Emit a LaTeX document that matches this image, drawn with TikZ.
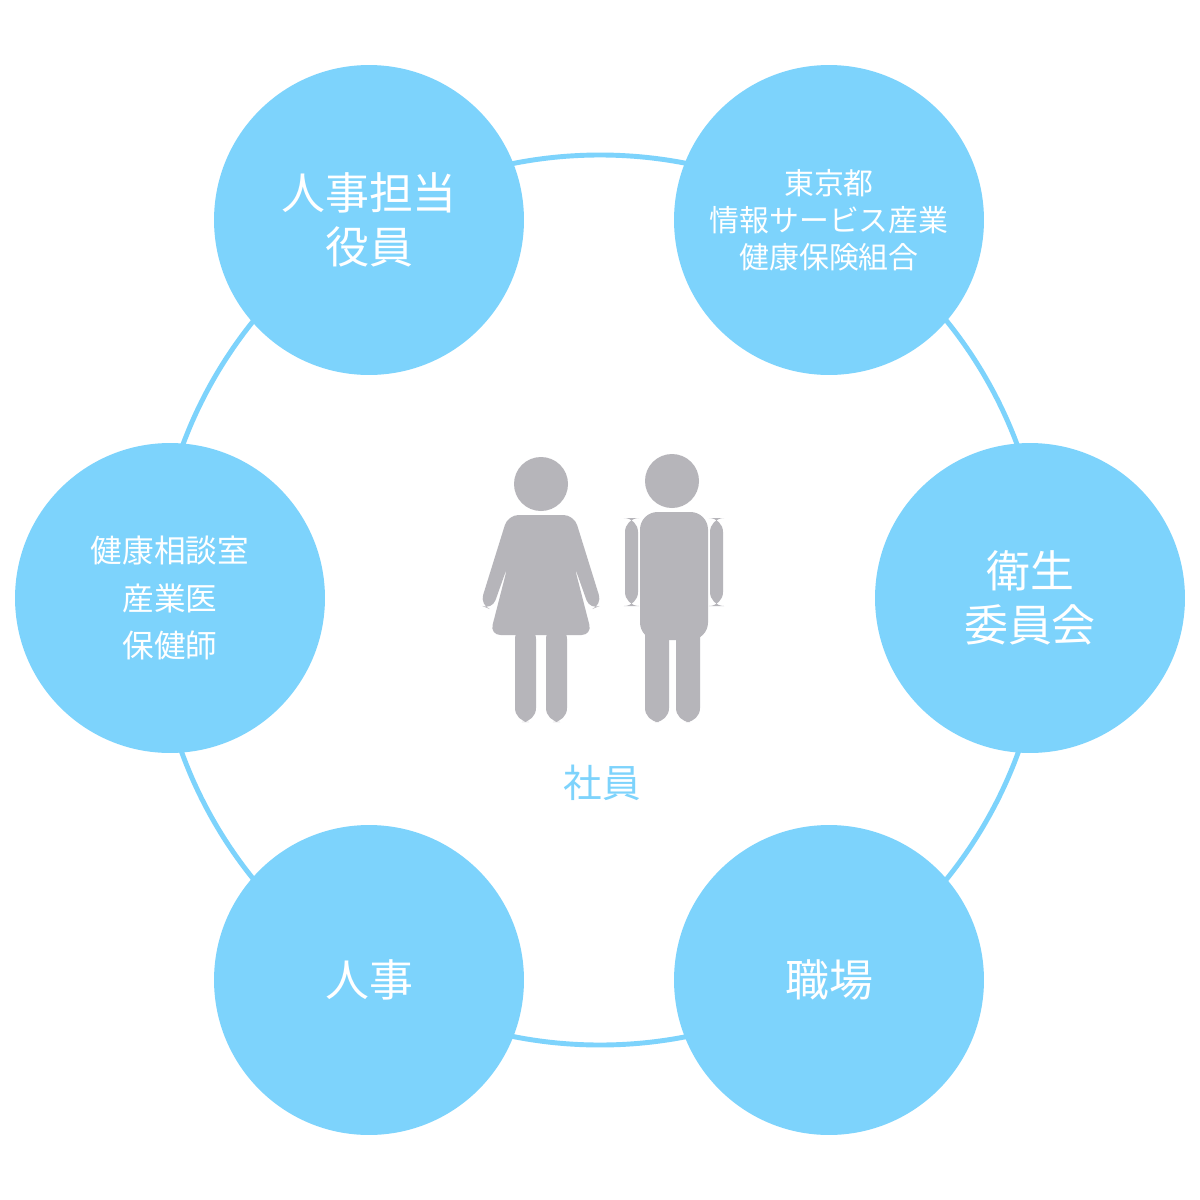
\documentclass[tikz,border=0pt]{standalone}
\usepackage{fontspec}
\newfontfamily\cjk{Noto Sans CJK JP}
\definecolor{sky}{HTML}{7DD3FC}
\definecolor{fig}{HTML}{B6B5BA}
\begin{document}
\begin{tikzpicture}[x=0.02cm,y=-0.02cm,
 bub/.style={circle,fill=sky,minimum size=6.2cm,inner sep=0pt,text=white,align=center,font=\cjk},
 big/.style={font=\cjk\fontsize{25}{31}\selectfont},
 small/.style={font=\cjk\fontsize{17}{21}\selectfont},
 mid/.style={font=\cjk\fontsize{18}{27}\selectfont}]
\useasboundingbox (0,0) rectangle (1200,1200);
\fill[white] (0,0) rectangle (1200,1200);
\coordinate (c) at (600,600);
\draw[sky,line width=2.8pt] (c) circle (445);
\node[bub,big] (a) at (369,220) {人事担当\\役員};
\node[bub,small] (b) at (829,220) {東京都\\情報サービス産業\\健康保険組合};
\node[bub,mid] (l) at (170,598) {健康相談室\\産業医\\保健師};
\node[bub,big] (r) at (1030,598) {衛生\\委員会};
\node[bub,big] (bl) at (369,980) {人事};
\node[bub,big] (br) at (829,980) {職場};
% woman
\fill[fig] (541,484) circle (27);
\fill[fig,rounded corners=6] (508,515) -- (574,515) -- (602,605) -- (590,610) -- (574,565) -- (592,635) -- (490,635) -- (508,565) -- (492,610) -- (480,605) -- cycle;
\fill[fig,rounded corners=8] (515,625) rectangle (536,722);
\fill[fig,rounded corners=8] (546,625) rectangle (567,722);
% man
\fill[fig] (672,481) circle (27);
\fill[fig,rounded corners=10] (640,512) rectangle (708,640);
\fill[fig,rounded corners=8] (625,518) rectangle (638,606);
\fill[fig,rounded corners=8] (710,518) rectangle (723,606);
\fill[fig,rounded corners=8] (645,600) rectangle (669,722);
\fill[fig,rounded corners=8] (676,600) rectangle (700,722);
\node[font=\cjk\fontsize{22}{26}\selectfont,text=sky] (s) at (602,783) {社員};
\end{tikzpicture}
\end{document}
